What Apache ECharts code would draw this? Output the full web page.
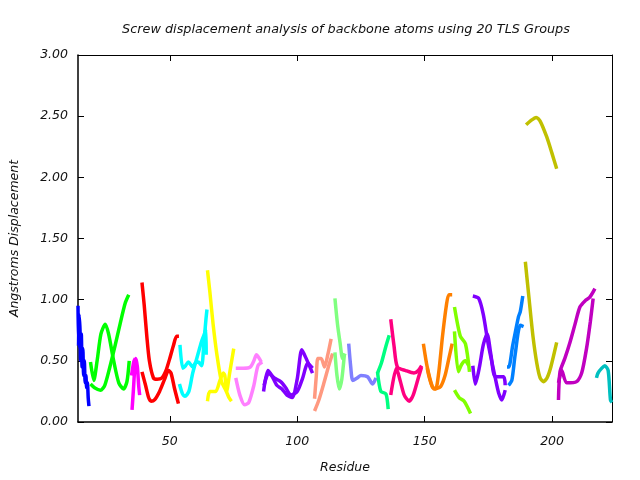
<!DOCTYPE html>
<html>
<head>
<meta charset="utf-8">
<script src="https://cdn.jsdelivr.net/npm/echarts@6/dist/echarts.min.js"></script>
<style>html,body{margin:0;padding:0;background:#fff}#c{width:640px;height:480px}</style>
</head>
<body>
<div id="c"></div>
<script>
// ---- data (residue, displacement in Angstroms) ----
const xTicks = [50, 100, 150, 200];
const yTicks = [0, 0.5, 1, 1.5, 2, 2.5, 3];

const g01a = [[14.0,0.95],[14.2,0.62],[14.4,0.88],[14.8,0.75],[15.0,0.50],[15.3,0.72],[15.6,0.45],[15.9,0.60],[16.2,0.38],[16.5,0.50],[16.8,0.32],[17.1,0.38],[17.4,0.28],[17.7,0.32],[18.0,0.20],[18.3,0.13]];
const g02a = [[18.9,0.49],[20.2,0.34],[21.5,0.50],[23.0,0.72],[24.7,0.80],[26.0,0.72],[28.0,0.50],[30.0,0.32],[31.9,0.27],[33.2,0.33],[34.1,0.50]];
const g02b = [[18.9,0.31],[20.5,0.28],[22.8,0.26],[24.5,0.30],[26.5,0.45],[28.5,0.62],[30.5,0.80],[32.5,0.97],[33.9,1.04]];
const g03a = [[35.2,0.10],[35.7,0.25],[36.2,0.42],[36.7,0.52],[37.3,0.45],[37.8,0.30],[38.2,0.22]];
const g03b = [[35.0,0.38],[35.5,0.45],[36.0,0.50],[36.5,0.52]];
const g04a = [[39.1,1.14],[40.0,0.95],[41.0,0.70],[42.0,0.50],[43.6,0.36],[45.0,0.35],[46.9,0.36],[48.5,0.42],[50.0,0.52],[51.5,0.63],[52.7,0.70],[53.6,0.70]];
const g04b = [[39.1,0.41],[40.5,0.30],[41.7,0.20],[42.7,0.17],[44.0,0.18],[46.0,0.25],[48.0,0.35],[49.5,0.42],[50.5,0.40],[51.8,0.28],[53.4,0.15]];
const g05a = [[54.0,0.63],[55.1,0.44],[56.2,0.46],[57.3,0.49],[59.0,0.45],[60.0,0.48],[61.2,0.49],[62.5,0.46],[63.4,0.65],[64.2,0.84],[64.6,0.92]];
const g05b = [[53.8,0.31],[55.0,0.23],[56.0,0.21],[57.5,0.25],[59.0,0.40],[61.0,0.55],[62.5,0.66],[63.6,0.72],[64.2,0.76],[64.3,0.55]];
const g06a = [[64.8,1.24],[65.8,1.05],[67.0,0.80],[68.5,0.55],[70.3,0.33],[72.0,0.26],[73.2,0.20],[74.2,0.17]];
const g06b = [[64.8,0.17],[65.7,0.25],[68.0,0.25],[69.7,0.34],[71.0,0.40],[71.6,0.38],[72.3,0.25],[73.5,0.40],[75.1,0.60]];
const g07a = [[75.9,0.44],[78.8,0.44],[81.6,0.45],[83.0,0.50],[84.0,0.55],[85.9,0.49]];
const g07b = [[75.9,0.36],[77.5,0.22],[79.4,0.14],[81.0,0.16],[83.0,0.30],[84.6,0.46],[86.3,0.49]];
const g08a = [[86.8,0.25],[88.5,0.42],[90.0,0.38],[92.0,0.30],[94.0,0.27],[96.0,0.22],[98.0,0.20],[100.0,0.35],[101.8,0.59],[103.5,0.52],[106.0,0.40]];
const g08b = [[87.0,0.30],[88.8,0.40],[91.0,0.36],[93.5,0.33],[95.5,0.28],[97.5,0.22],[100.0,0.25],[102.0,0.35],[104.2,0.48],[106.0,0.44]];
const g09a = [[106.8,0.19],[107.5,0.38],[108.1,0.52],[109.4,0.52],[110.7,0.45],[112.0,0.55],[113.3,0.68]];
const g09b = [[106.8,0.09],[108.5,0.18],[110.5,0.32],[112.5,0.47],[113.9,0.56]];
const g10a = [[114.8,1.01],[115.8,0.80],[116.8,0.65],[117.8,0.52],[118.75,0.56]];
const g10b = [[114.8,0.57],[115.6,0.38],[116.5,0.27],[117.5,0.35],[118.5,0.55]];
const g11a = [[120.2,0.64],[121.0,0.45],[121.8,0.34],[123.5,0.36],[125.0,0.38],[127.6,0.37],[129.6,0.31],[130.9,0.36]];
const g12a = [[131.5,0.40],[133.0,0.48],[134.8,0.62],[136.1,0.71]];
const g12b = [[131.5,0.41],[132.8,0.25],[134.8,0.23],[135.7,0.105]];
const g13a = [[136.7,0.84],[138.0,0.62],[139.3,0.45],[142.6,0.42],[145.8,0.40],[147.5,0.42],[148.8,0.46]];
const g13b = [[136.7,0.22],[138.9,0.44],[140.5,0.33],[142.0,0.22],[143.9,0.17],[145.5,0.22],[147.5,0.36],[148.8,0.45]];
const g14a = [[149.5,0.64],[151.0,0.45],[153.0,0.29],[154.3,0.27],[155.5,0.40],[157.0,0.70],[158.5,0.95],[159.5,1.04],[160.8,1.04]];
const g14b = [[151.0,0.44],[153.6,0.27],[156.25,0.29],[158.0,0.38],[159.5,0.52],[160.8,0.64]];
const g15a = [[161.7,0.94],[164.0,0.70],[166.0,0.64],[167.6,0.41]];
const g15b = [[161.7,0.74],[163.2,0.41],[164.5,0.47],[166.0,0.50],[167.3,0.46]];
const g15c = [[161.7,0.26],[163.5,0.20],[165.5,0.17],[168.0,0.07]];
const g16a = [[168.9,1.03],[171.2,1.01],[173.0,0.88],[175.0,0.63],[177.7,0.36],[179.0,0.24],[180.3,0.18],[181.6,0.26]];
const g16b = [[168.9,0.46],[169.9,0.31],[171.5,0.45],[173.0,0.63],[174.5,0.72],[176.0,0.55],[177.7,0.37],[181.0,0.37],[181.6,0.30]];
const g17a = [[182.3,0.45],[183.0,0.45],[184.5,0.62],[186.8,0.86],[187.5,0.90],[188.5,1.03]];
const g17b = [[182.9,0.30],[184.2,0.34],[185.5,0.55],[187.5,0.79],[188.8,0.78]];
const g18a = [[189.5,1.31],[191.0,1.00],[192.5,0.70],[194.0,0.48],[195.3,0.36],[196.6,0.33],[198.0,0.36],[199.5,0.45],[201.8,0.65]];
const g18b = [[189.8,2.43],[191.4,2.46],[193.75,2.49],[195.3,2.46],[197.9,2.33],[199.9,2.20],[201.8,2.07]];
const g19a = [[202.5,0.18],[203.1,0.41],[205.0,0.52],[207.0,0.65],[209.0,0.80],[210.9,0.94],[212.9,0.99],[214.8,1.02],[216.8,1.09]];
const g19b = [[202.5,0.32],[203.8,0.42],[205.7,0.32],[209.6,0.33],[211.6,0.40],[213.5,0.60],[215.0,0.82],[216.1,1.01]];
const g20a = [[217.4,0.36],[218.0,0.40],[219.5,0.44],[220.7,0.46],[222.0,0.42],[222.9,0.18],[223.5,0.16]];

const groups = [
  ['#0000ff', [g01a]], ['#00ff00', [g02a, g02b]], ['#ff00ff', [g03a, g03b]], ['#ff0000', [g04a, g04b]],
  ['#00ffff', [g05a, g05b]], ['#ffff00', [g06a, g06b]], ['#ff80ff', [g07a, g07b]], ['#8000ff', [g08a, g08b]],
  ['#ff9980', [g09a, g09b]], ['#80ff80', [g10a, g10b]], ['#8080ff', [g11a]], ['#00ff80', [g12a, g12b]],
  ['#ff0080', [g13a, g13b]], ['#ff8000', [g14a, g14b]], ['#80ff00', [g15a, g15b, g15c]], ['#8000ff', [g16a, g16b]],
  ['#0080ff', [g17a, g17b]], ['#c0c000', [g18a, g18b]], ['#c000c0', [g19a, g19b]], ['#00c0c0', [g20a]]
];

const series = [];
groups.forEach(([color, traces]) => {
  traces.forEach(d => series.push({
    type: 'line', data: d, showSymbol: false, symbol: 'none', smooth: 0.25,
    lineStyle: { color: color, width: 3.5 }, itemStyle: { color: color }, z: 3, silent: true
  }));
});

const fontFam = 'DejaVu Sans';
const labelStyle = { fontFamily: fontFam, fontStyle: 'italic', fontSize: 12.5, color: '#111' };
const xMin = 14, xMax = 223.5;

const chart = echarts.init(document.getElementById('c'), null, { renderer: 'canvas' });
chart.setOption({
  animation: false,
  backgroundColor: '#fff',
  title: {
    text: 'Screw displacement analysis of backbone atoms using 20 TLS Groups',
    left: 341, top: 18, textAlign: 'center',
    textStyle: { fontFamily: fontFam, fontStyle: 'italic', fontWeight: 'normal', fontSize: 12.8, color: '#111' }
  },
  grid: { left: 76, right: 28, top: 55, bottom: 58 },
  xAxis: [{
    type: 'value', min: xMin, max: xMax, position: 'bottom',
    name: 'Residue', nameLocation: 'middle', nameGap: 39,
    nameTextStyle: labelStyle,
    axisLine: { show: true, onZero: false, lineStyle: { color: '#000', width: 1.5 } },
    axisTick: { show: true, inside: true, length: 6, customValues: xTicks, lineStyle: { color: '#000' } },
    axisLabel: { customValues: xTicks, margin: 13, ...labelStyle },
    splitLine: { show: false }
  }, {
    type: 'value', min: xMin, max: xMax, position: 'top',
    axisLine: { show: true, onZero: false, lineStyle: { color: '#000', width: 1 } },
    axisTick: { show: true, inside: true, length: 6, customValues: xTicks, lineStyle: { color: '#000' } },
    axisLabel: { show: false }, splitLine: { show: false }
  }],
  yAxis: [{
    type: 'value', min: 0, max: 3, interval: 0.5, position: 'left',
    name: 'Angstroms Displacement', nameLocation: 'middle', nameGap: 57, nameRotate: 90,
    nameTextStyle: labelStyle,
    axisLine: { show: true, lineStyle: { color: '#000', width: 1.5 } },
    axisTick: { show: true, inside: true, length: 6, lineStyle: { color: '#000' } },
    axisLabel: { margin: 10, formatter: v => v.toFixed(2), ...labelStyle },
    splitLine: { show: false }
  }, {
    type: 'value', min: 0, max: 3, interval: 0.5, position: 'right',
    axisLine: { show: true, lineStyle: { color: '#000', width: 1 } },
    axisTick: { show: true, inside: true, length: 6, lineStyle: { color: '#000' } },
    axisLabel: { show: false }, splitLine: { show: false }
  }],
  series: series
});
</script>
</body>
</html>
